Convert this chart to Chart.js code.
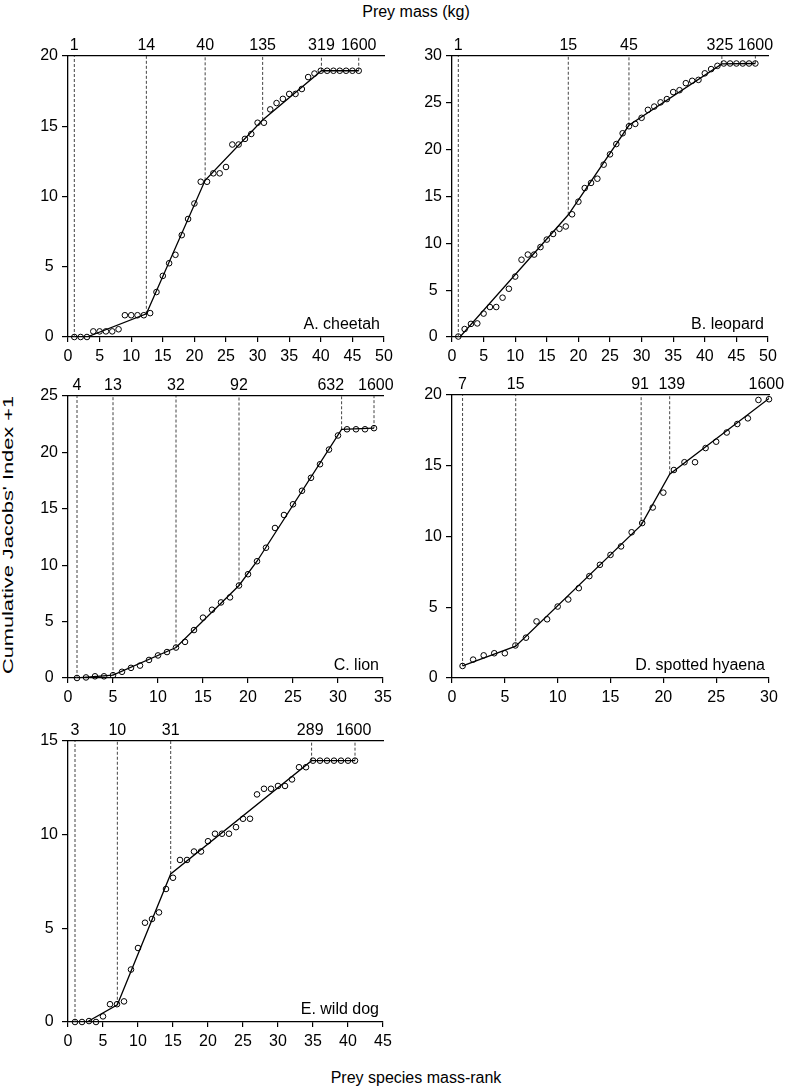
<!DOCTYPE html>
<html>
<head>
<meta charset="utf-8">
<title>Cumulative Jacobs' index by prey mass-rank</title>
<script src="https://cdn.jsdelivr.net/npm/chart.js@4.4.1/dist/chart.umd.min.js"></script>
<style>
    body { margin: 0; background: #fff; }
    #page {
        position: relative; width: 786px; height: 1089px; overflow: hidden; background: #fff;
        font-family: "Liberation Sans", Arial, sans-serif; color: #000;
    }
    canvas { position: absolute; }
    .label { position: absolute; font-size: 16px; line-height: 18px; white-space: nowrap; }
    #mass-title { left: 316px; width: 200px; top: 3px; text-align: center; }
    #rank-title { left: 316px; width: 200px; top: 1069px; text-align: center; }
    #index-title { left: 8px; top: 535px; font-size: 15px; transform: translate(-50%, -50%) rotate(-90deg) scaleX(1.45); }
</style>
</head>
<body>
<div id="page">
    <div class="label" id="mass-title">Prey mass (kg)</div>
    <div class="label" id="index-title">Cumulative Jacobs' Index +1</div>
    <div class="label" id="rank-title">Prey species mass-rank</div>
    <canvas id="chart-cheetah"></canvas>
    <canvas id="chart-leopard"></canvas>
    <canvas id="chart-lion"></canvas>
    <canvas id="chart-hyaena"></canvas>
    <canvas id="chart-wilddog"></canvas>
</div>

<script>
// A. cheetah (ranks 1..46)
const cheetahIndex = [0, 0, 0, 0.4, 0.4, 0.4, 0.4, 0.55, 1.55, 1.55,
    1.55, 1.55, 1.7, 3.2, 4.35, 5.25, 5.85, 7.25, 8.4, 9.5,
    11.05, 11.05, 11.65, 11.65, 12.1, 13.7, 13.7, 14.1, 14.45, 15.25,
    15.25, 16.2, 16.65, 16.95, 17.3, 17.3, 17.65, 18.5, 18.75, 18.95,
    18.95, 18.95, 18.95, 18.95, 18.95, 18.95];
const cheetahFitRank = [1, 3, 12.4, 21.7, 30.8, 40.1, 46];
const cheetahFitIndex = [0, 0, 1.65, 11.15, 15.45, 18.95, 18.95];
const cheetahBreakRank = [1, 12.4, 21.7, 30.8, 40.1, 46];
const cheetahMassRank = [1, 12.4, 21.7, 30.8, 40.1, 46];
const cheetahBreakMass = ["1", "14", "40", "135", "319", "1600"];

// B. leopard (ranks 1..48)
const leopardIndex = [0.05, 0.85, 1.4, 1.45, 2.5, 3.2, 3.2, 4.2, 5.15, 6.45,
    8.25, 8.8, 8.8, 9.6, 10.4, 11.0, 11.55, 11.8, 13.1, 14.45,
    15.9, 16.45, 16.9, 18.4, 19.5, 20.6, 21.75, 22.5, 22.75, 23.4,
    24.25, 24.6, 25.05, 25.4, 26.15, 26.35, 27.1, 27.35, 27.45, 28.15,
    28.6, 28.95, 29.2, 29.2, 29.2, 29.2, 29.2, 29.2];
const leopardFitRank = [1.25, 18.4, 28.0, 42.7, 48];
const leopardFitIndex = [0, 13.05, 22.6, 29.15, 29.2];
const leopardBreakRank = [1, 18.4, 28.0, 42.7, 48];
const leopardMassRank = [1, 18.4, 28.0, 42.4, 48];
const leopardBreakMass = ["1", "15", "45", "325", "1600"];

// C. lion (ranks 1..34)
const lionIndex = [0, 0.05, 0.15, 0.15, 0.25, 0.55, 0.9, 1.1, 1.6, 2.0,
    2.3, 2.7, 3.2, 4.25, 5.35, 6.05, 6.7, 7.15, 8.2, 9.2,
    10.35, 11.55, 13.3, 14.45, 15.4, 16.6, 17.75, 18.95, 20.25, 21.5,
    22.05, 22.05, 22.05, 22.15];
const lionFitRank = [1, 5, 12, 19, 21, 30.4, 34];
const lionFitIndex = [0, 0.25, 2.7, 8.2, 10.35, 22.05, 22.15];
const lionBreakRank = [1, 5, 12, 19, 30.4, 34];
const lionMassRank = [1, 5, 12, 19, 29.2, 34.2];
const lionBreakMass = ["4", "13", "32", "92", "632", "1600"];

// D. spotted hyaena (ranks 1..30)
const hyaenaIndex = [0.85, 1.3, 1.6, 1.75, 1.75, 2.3, 2.85, 4.0, 4.15, 5.05,
    5.55, 6.35, 7.2, 8.0, 8.7, 9.3, 10.3, 10.95, 12.05, 13.1,
    14.7, 15.25, 15.25, 16.25, 16.7, 17.35, 17.95, 18.35, 19.65, 19.7];
const hyaenaFitRank = [1, 6.03, 17.9, 20.6, 30];
const hyaenaFitIndex = [0.85, 2.25, 10.8, 14.4, 19.75];
const hyaenaBreakRank = [1, 6.03, 17.9, 20.6, 30];
const hyaenaMassRank = [1, 6.03, 17.8, 20.8, 29.75];
const hyaenaBreakMass = ["7", "15", "91", "139", "1600"];

// E. wild dog (ranks 1..41)
const wilddogIndex = [0, 0, 0.05, 0, 0.3, 0.95, 0.95, 1.1, 2.8, 3.95,
    5.3, 5.5, 5.85, 7.1, 7.7, 8.65, 8.65, 9.1, 9.1, 9.65,
    10.05, 10.05, 10.05, 10.4, 10.85, 10.85, 12.15, 12.45, 12.45, 12.6,
    12.6, 12.95, 13.6, 13.6, 13.95, 13.95, 13.95, 13.95, 13.95, 13.95,
    13.95];
const wilddogFitRank = [1, 2.7, 7.05, 14.67, 34.8, 41];
const wilddogFitIndex = [0, 0, 0.92, 7.9, 13.95, 13.95];
const wilddogBreakRank = [1, 7.05, 14.67, 34.8, 41];
const wilddogMassRank = [1, 7.05, 14.67, 34.6, 40.8];
const wilddogBreakMass = ["3", "10", "31", "289", "1600"];


Chart.defaults.font.family = "'Liberation Sans', Arial, sans-serif";
Chart.defaults.font.size = 16;
Chart.defaults.color = "#000";

const AXIS_LEFT = 50;
const AXIS_TOP = 30;
const AXIS_BOTTOM = 30;
const PAD_RIGHT = 22;

// y of the fitted line at a given rank, used for the foot of each dashed line
function fitAt(xs, ys, x) {
    if (x <= xs[0]) return ys[0];
    for (let i = 1; i < xs.length; i++) {
        if (x <= xs[i]) {
            const t = (x - xs[i - 1]) / (xs[i] - xs[i - 1]);
            return ys[i - 1] + t * (ys[i] - ys[i - 1]);
        }
    }
    return ys[ys.length - 1];
}

const panelLabel = {
    id: "panelLabel",
    afterDraw(chart, args, opts) {
        const { ctx, chartArea } = chart;
        ctx.save();
        ctx.font = "16px 'Liberation Sans', Arial, sans-serif";
        ctx.fillStyle = "#000";
        ctx.textAlign = "right";
        ctx.textBaseline = "alphabetic";
        ctx.fillText(opts.text, chartArea.right - 4, chartArea.bottom - 8);
        ctx.restore();
    }
};

function makePanel(id, box, p) {
    const canvas = document.getElementById(id);
    canvas.width = box.right - box.left + AXIS_LEFT + PAD_RIGHT;
    canvas.height = box.bottom - box.top + AXIS_TOP + AXIS_BOTTOM;
    canvas.style.left = (box.left - AXIS_LEFT) + "px";
    canvas.style.top = (box.top - AXIS_TOP) + "px";

    const dashed = p.breakRank.map(x => ({
        data: [{ x: x, y: fitAt(p.fitRank, p.fitIndex, x) }, { x: x, y: p.yMax }],
        showLine: true,
        borderColor: "#444",
        borderWidth: 1,
        borderDash: [3, 2],
        pointRadius: 0
    }));

    new Chart(canvas, {
        type: "scatter",
        data: {
            datasets: [
                {
                    data: p.fitRank.map((x, i) => ({ x: x, y: p.fitIndex[i] })),
                    showLine: true,
                    borderColor: "#000",
                    borderWidth: 1.3,
                    pointRadius: 0,
                    tension: 0
                },
                {
                    data: p.index.map((y, i) => ({ x: i + 1, y: y })),
                    showLine: false,
                    pointRadius: 2.8,
                    pointBorderWidth: 1,
                    pointBorderColor: "#000",
                    pointBackgroundColor: "rgba(255,255,255,0)",
                    clip: false
                },
                ...dashed
            ]
        },
        options: {
            responsive: false,
            devicePixelRatio: 1,
            animation: false,
            events: [],
            layout: { padding: { left: 0, top: 0, bottom: 0, right: PAD_RIGHT } },
            plugins: {
                legend: { display: false },
                tooltip: { enabled: false },
                panelLabel: { text: p.label }
            },
            scales: {
                x: {
                    type: "linear",
                    position: "bottom",
                    min: 0,
                    max: p.xMax,
                    ticks: { stepSize: 5, padding: 5, maxRotation: 0, autoSkip: false },
                    grid: { drawOnChartArea: false, tickLength: 5, color: "#000", lineWidth: 1.2 },
                    border: { color: "#000", width: 1.3 },
                    afterFit: s => { s.height = AXIS_BOTTOM; s.paddingLeft = 0; s.paddingRight = 0; }
                },
                x2: {
                    type: "linear",
                    position: "top",
                    min: 0,
                    max: p.xMax,
                    afterBuildTicks: s => { s.ticks = p.massRank.map(v => ({ value: v })); },
                    ticks: {
                        padding: 1,
                        maxRotation: 0,
                        autoSkip: false,
                        callback: (v, i) => p.breakMass[i]
                    },
                    grid: { display: false, drawTicks: false },
                    border: { color: "#000", width: 1.3 },
                    afterFit: s => { s.height = AXIS_TOP; s.paddingLeft = 0; s.paddingRight = 0; }
                },
                y: {
                    min: 0,
                    max: p.yMax,
                    ticks: { stepSize: 5, padding: 4, crossAlign: "center" },
                    grid: { drawOnChartArea: false, tickLength: 6, color: "#000", lineWidth: 1.2 },
                    border: { color: "#000", width: 1.3 },
                    afterFit: s => { s.width = AXIS_LEFT; s.paddingTop = 0; s.paddingBottom = 0; }
                }
            }
        },
        plugins: [panelLabel]
    });
}

makePanel("chart-cheetah", { left: 68, top: 56, right: 384, bottom: 337 }, {
    index: cheetahIndex, fitRank: cheetahFitRank, fitIndex: cheetahFitIndex,
    breakRank: cheetahBreakRank, massRank: cheetahMassRank, breakMass: cheetahBreakMass,
    xMax: 50, yMax: 20, label: "A. cheetah"
});

makePanel("chart-leopard", { left: 452, top: 56, right: 768, bottom: 337 }, {
    index: leopardIndex, fitRank: leopardFitRank, fitIndex: leopardFitIndex,
    breakRank: leopardBreakRank, massRank: leopardMassRank, breakMass: leopardBreakMass,
    xMax: 50, yMax: 30, label: "B. leopard"
});

makePanel("chart-lion", { left: 68, top: 396, right: 383, bottom: 678 }, {
    index: lionIndex, fitRank: lionFitRank, fitIndex: lionFitIndex,
    breakRank: lionBreakRank, massRank: lionMassRank, breakMass: lionBreakMass,
    xMax: 35, yMax: 25, label: "C. lion"
});

makePanel("chart-hyaena", { left: 452, top: 395, right: 769, bottom: 678 }, {
    index: hyaenaIndex, fitRank: hyaenaFitRank, fitIndex: hyaenaFitIndex,
    breakRank: hyaenaBreakRank, massRank: hyaenaMassRank, breakMass: hyaenaBreakMass,
    xMax: 30, yMax: 20, label: "D. spotted hyaena"
});

makePanel("chart-wilddog", { left: 68, top: 741, right: 383, bottom: 1022 }, {
    index: wilddogIndex, fitRank: wilddogFitRank, fitIndex: wilddogFitIndex,
    breakRank: wilddogBreakRank, massRank: wilddogMassRank, breakMass: wilddogBreakMass,
    xMax: 45, yMax: 15, label: "E. wild dog"
});
</script>
</body>
</html>
